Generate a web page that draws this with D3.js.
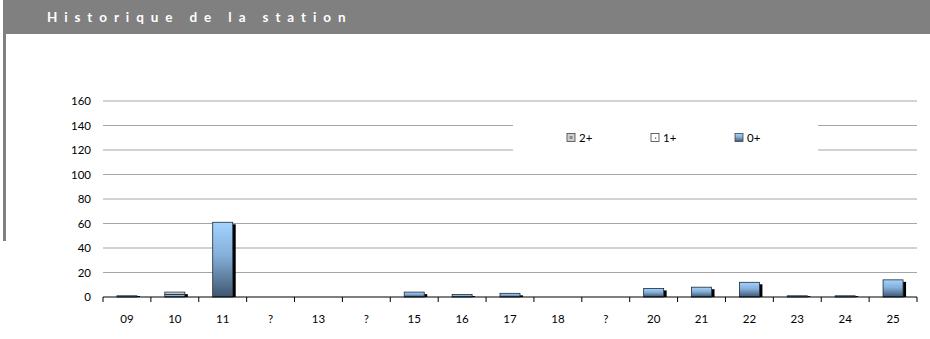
<!DOCTYPE html>
<html>
<head>
<meta charset="utf-8">
<script src="https://cdn.jsdelivr.net/npm/d3@7/dist/d3.min.js"></script>
<style>
  html, body { margin: 0; padding: 0; background: #fff; }
  svg { display: block; }
</style>
</head>
<body>
<svg id="chart" width="930" height="339"></svg>
<script>
// Station history: counts per year class
const categories = ["09", "10", "11", "?", "13", "?", "15", "16", "17", "18", "?", "20", "21", "22", "23", "24", "25"];
const series0 = [1, 2, 61, 0, 0, 0, 4, 2, 3, 0, 0, 7, 8, 12, 1, 1, 14];   // 0+
const series1 = [0, 0, 0, 0, 0, 0, 0, 0, 0, 0, 0, 0, 0, 0, 0, 0, 0];      // 1+
const series2 = [0, 2, 0, 0, 0, 0, 0, 0, 0, 0, 0, 0, 0, 0, 0, 0, 0];      // 2+
const yTicks = [0, 20, 40, 60, 80, 100, 120, 140, 160];
const legendLabels = ["2+", "1+", "0+"];
const title = "Historique de la station";

const svg = d3.select("#chart");
const font = "Lato, 'Noto Sans', sans-serif";

// grey header band and side rule
svg.append("rect").attr("x", 3).attr("y", 0).attr("width", 927).attr("height", 34).attr("fill", "#808080");
svg.append("rect").attr("x", 3).attr("y", 34).attr("width", 3).attr("height", 207).attr("fill", "#808080");
svg.append("text")
  .attr("x", 47).attr("y", 22)
  .attr("fill", "#fff")
  .attr("font-family", font)
  .attr("font-weight", "bold")
  .attr("font-size", 13.5)
  .attr("letter-spacing", "6.9px")
  .text(title);

const plotLeft = 103, plotRight = 917, plotTop = 101, plotBottom = 297;

const x = d3.scaleBand().domain(d3.range(categories.length)).range([plotLeft, plotRight]);
const y = d3.scaleLinear().domain([0, 160]).range([plotBottom, plotTop]);

// gradients for bars
const defs = svg.append("defs");
const grad0 = defs.append("linearGradient").attr("id", "g0").attr("x1", 0).attr("y1", 0).attr("x2", 0).attr("y2", 1);
grad0.append("stop").attr("offset", "0%").attr("stop-color", "#a3d3ff");
grad0.append("stop").attr("offset", "45%").attr("stop-color", "#84afd8");
grad0.append("stop").attr("offset", "100%").attr("stop-color", "#3e566f");
const grad2 = defs.append("linearGradient").attr("id", "g2").attr("x1", 0).attr("y1", 0).attr("x2", 0).attr("y2", 1);
grad2.append("stop").attr("offset", "0%").attr("stop-color", "#e6e6e6");
grad2.append("stop").attr("offset", "100%").attr("stop-color", "#a8a8a8");

// gridlines
svg.append("g")
  .selectAll("line")
  .data(yTicks.filter(d => d > 0))
  .join("line")
  .attr("x1", plotLeft).attr("x2", plotRight)
  .attr("y1", d => y(d)).attr("y2", d => y(d))
  .attr("stroke", "#a6a6a6").attr("stroke-width", 1.2);

// y axis labels
const yAxis = d3.axisLeft(y).tickValues(yTicks).tickSize(0).tickPadding(12);
const gy = svg.append("g").attr("transform", `translate(${plotLeft},0)`).call(yAxis);
gy.select(".domain").remove();
gy.selectAll("text").attr("font-family", font).attr("font-size", 11.5).attr("fill", "#000");

// legend box (white background covers grid)
const legend = svg.append("g");
legend.append("rect").attr("x", 513).attr("y", 117).attr("width", 305).attr("height", 40).attr("fill", "#fff");
const legendX = [567, 651, 735];
const legendFill = ["#d0d0d0", "#ffffff", "url(#g0)"];
legendLabels.forEach((lab, i) => {
  legend.append("rect").attr("x", legendX[i]).attr("y", 133.5).attr("width", 8).attr("height", 8)
    .attr("fill", legendFill[i]).attr("stroke", "#444").attr("stroke-width", 0.8);
  if (i === 0) legend.append("rect").attr("x", legendX[i] + 2.5).attr("y", 136).attr("width", 3).attr("height", 3).attr("fill", "#8a8a8a");
  if (i === 1) legend.append("rect").attr("x", legendX[i] + 4).attr("y", 137.5).attr("width", 1.2).attr("height", 1.2).attr("fill", "#444");
  legend.append("text").attr("x", legendX[i] + 12).attr("y", 141.5)
    .attr("font-family", font).attr("font-size", 11.5).attr("fill", "#000").text(lab);
});

// stacked bars
const stack = categories.map((c, i) => {
  const a = series0[i], b = series1[i], cc = series2[i];
  return [
    { y0: 0, y1: a, fill: "url(#g0)" },
    { y0: a, y1: a + b, fill: "#ffffff" },
    { y0: a + b, y1: a + b + cc, fill: "url(#g2)" }
  ].map(s => ({ ...s, i }));
});
const barW = 20;
const bars = svg.append("g");
stack.forEach(segs => {
  const total = d3.max(segs, s => s.y1);
  if (total <= 0) return;
  const cx = x(segs[0].i) + x.bandwidth() / 2;
  // shadow on the right side
  bars.append("rect")
    .attr("x", cx + barW / 2).attr("y", Math.min(y(total) + 2, y(0) - 1))
    .attr("width", 3).attr("height", Math.max(1, y(0) - y(total) - 2))
    .attr("fill", "#000");
  segs.filter(s => s.y1 > s.y0).forEach(s => {
    bars.append("rect")
      .attr("x", cx - barW / 2).attr("y", y(s.y1))
      .attr("width", barW).attr("height", Math.max(1, y(s.y0) - y(s.y1)))
      .attr("fill", s.fill).attr("stroke", "#1c2a38").attr("stroke-width", 0.8);
  });
});

// x axis
const xAxis = d3.axisBottom(x).tickSize(0).tickPadding(18).tickFormat(i => categories[i]);
const gx = svg.append("g").attr("transform", `translate(0,${plotBottom})`).call(xAxis);
gx.select(".domain").remove();
gx.selectAll("text").attr("font-family", font).attr("font-size", 11.5).attr("fill", "#000");
svg.append("line").attr("x1", plotLeft).attr("x2", plotRight).attr("y1", plotBottom).attr("y2", plotBottom)
  .attr("stroke", "#000").attr("stroke-width", 1);
svg.append("g").selectAll("line")
  .data(d3.range(categories.length + 1))
  .join("line")
  .attr("x1", i => plotLeft + i * x.step()).attr("x2", i => plotLeft + i * x.step())
  .attr("y1", plotBottom).attr("y2", plotBottom + 5)
  .attr("stroke", "#000").attr("stroke-width", 1);
</script>
</body>
</html>
